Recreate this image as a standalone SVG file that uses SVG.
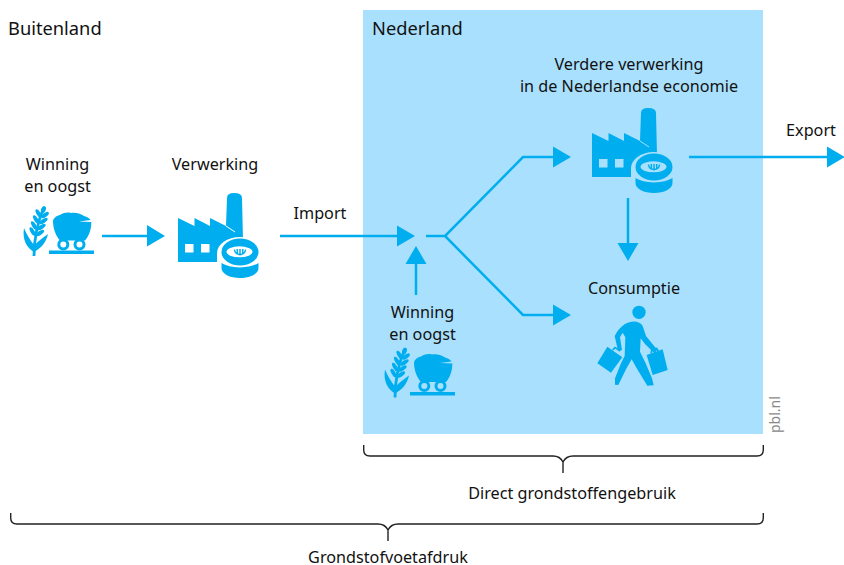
<svg xmlns="http://www.w3.org/2000/svg" width="844" height="565" viewBox="0 0 844 565">
<style>
text{font-family:"Noto Sans","Open Sans","Liberation Sans",sans-serif;font-size:16.200px;fill:#111}
.m{text-anchor:middle}
.h{font-size:18.300px}
.l{fill:none;stroke:#00aeef;stroke-width:2.500}
.a{fill:#00aeef}
.b{fill:none;stroke:#222;stroke-width:1.400}
</style>
<defs>
<g id="factory">
<path class="a" d="M178 218L194.500 226V218L210 226V218L226 226L227 198Q227 193 234 193Q242 193 242 198L243 240H226V262H178Z"/>
<path d="M226 226L235 232" fill="none" stroke="currentColor" stroke-width="1"/>
<path d="M185 244h8.500v8.500h-8.500zM201 244h8.500v8.500h-8.500z" fill="currentColor"/>
<ellipse cx="240" cy="253" rx="23" ry="16" fill="currentColor"/>
<rect x="217" y="253" width="20" height="14" fill="currentColor"/>
<path class="a" d="M221.500 263Q228 267 240 267.500Q252 267 258.500 263V268C258.500 274 250 278 240 278C230 278 221.500 274 221.500 268Z"/>
<ellipse class="a" cx="240" cy="252" rx="18.500" ry="13.500"/>
<ellipse cx="239.500" cy="251.800" rx="13" ry="5.500" fill="currentColor"/>
<path d="M234.500 249.500Q235 254.500 240 254.500Q245 254.500 245.500 249.500M240 249V255.500M237.300 249V254M242.700 249V254" fill="none" stroke="#00aeef" stroke-width="1.500"/>
</g>
<g id="raw">
<path d="M34 256C34 240 37 224 43.500 208" fill="none" stroke="#00aeef" stroke-width="2.800"/>
<g class="a">
<ellipse cx="43.500" cy="209.500" rx="2.300" ry="3.500" transform="rotate(20 43.500 209.500)"/>
<ellipse cx="38.500" cy="213.500" rx="2" ry="4.800" transform="rotate(-30 38.500 213.500)"/>
<ellipse cx="45" cy="215" rx="2" ry="4.500" transform="rotate(55 45 215)"/>
<ellipse cx="36" cy="219.500" rx="2" ry="4.800" transform="rotate(-30 36 219.500)"/>
<ellipse cx="43.500" cy="221" rx="2" ry="4.800" transform="rotate(55 43.500 221)"/>
<ellipse cx="34" cy="225.500" rx="2" ry="4.800" transform="rotate(-30 34 225.500)"/>
<ellipse cx="41.500" cy="227" rx="2" ry="4.800" transform="rotate(55 41.500 227)"/>
<ellipse cx="32.500" cy="231.500" rx="2" ry="4.800" transform="rotate(-30 32.500 231.500)"/>
<ellipse cx="40" cy="233" rx="2" ry="4.800" transform="rotate(55 40 233)"/>
<path d="M24 228C22 240 27 248 34 252V245C30 240 27 235 24 228Z"/>
<path d="M34 252C41 248 46 243 48 234C43 238 38 241 34.500 245Z"/>
<path d="M53 221C53.500 218 57 215.500 60 215C64 212.500 68 212 71 213C76 212 81 214 84 216C87 217 90 218.500 90.500 220L79 221.500L91.300 222C91.500 229 89 236 85 240.500H60C56 236 53 229 53 221Z"/>
<rect x="49" y="250.500" width="45" height="3.500"/>
</g>
<g fill="none" stroke="#00aeef" stroke-width="3">
<circle cx="63.300" cy="244.500" r="4.500"/>
<circle cx="79.500" cy="244.500" r="4.500"/>
</g>
</g>
</defs>
<g id="nederland-area">
<rect x="363" y="10" width="400" height="424" fill="#a9e0fd"/>
</g>
<g id="connectors">
<path class="l" d="M102 236H148M280 236H398M426 236H445M416 295V263M628 198V244M689 157H828M554 157H523L445 236L523 315H554"/>
<path class="a" d="M147 225L165 236L147 246.500ZM397 225.500L415 236L397 246.500ZM405.500 264L416 246L426.500 264ZM617.500 243L628 261L638.500 243ZM553 146.500L571 157L553 167.500ZM553 304.500L571 315L553 325.500ZM827 146.500L845 157L827 167.500Z"/>
<path class="b" d="M363.700 445V450Q363.700 456 370 456H553Q560 456 563 462Q566 456 573 456H757Q763.300 456 763.300 450V445M563 461V473"/>
<path class="b" d="M10.700 513V518Q10.700 524 17 524H378Q385 524 388 530Q391 524 398 524H757Q763.300 524 763.300 518V513M388 529V541"/>
</g>
<g id="buitenland"><text class="h" x="8" y="35">Buitenland</text></g>
<g id="nederland"><text class="h" x="372" y="35">Nederland</text></g>
<g id="winning-buiten"><text class="m" x="57.500" y="170">Winning</text><text class="m" x="57.500" y="192">en oogst</text><use href="#raw"/></g>
<g id="verwerking"><text class="m" x="215" y="170">Verwerking</text><use href="#factory" color="#fff"/></g>
<g id="import"><text class="m" x="320" y="219">Import</text></g>
<g id="winning-nl"><text class="m" x="422.500" y="318">Winning</text><text class="m" x="422.500" y="340">en oogst</text><use href="#raw" transform="translate(361 141.500)"/></g>
<g id="verdere-verwerking"><text class="m" x="629" y="70">Verdere verwerking</text><text class="m" x="629" y="92">in de Nederlandse economie</text><use href="#factory" color="#a9e0fd" transform="translate(414 -85)"/></g>
<g id="export"><text class="m" x="811" y="136">Export</text></g>
<g id="consumptie"><text class="m" x="634" y="294">Consumptie</text>
<g class="a" transform="translate(590 300) scale(.3333)">
<circle cx="147" cy="37" r="20"/>
<path d="M105 72C125 60 150 62 158 78L168 108L202 150L193 160L165 132L152 115L150 155L167 190L186 235L191 256L172 257L140 205L125 178L108 208L85 255L75 254L75 235L93 190L104 168L106 112L98 98L90 112L96 150L84 152L74 108Q85 85 105 72Z"/>
<path d="M52 140L97 172L63 218L22 190Z"/>
<path d="M170 165L218 148L233 210L188 225Z"/>
<path d="M68 150L75 143L91 153" fill="none" stroke="#00aeef" stroke-width="5"/>
<path d="M183 160L186 148L200 145L205 153" fill="none" stroke="#00aeef" stroke-width="5"/>
</g></g>
<g id="source"><text x="0" y="0" transform="translate(780 433) rotate(-90)" style="font-size:14px;fill:#888">pbl.nl</text></g>
<g id="direct"><text class="m" x="572" y="499">Direct grondstoffengebruik</text></g>
<g id="voetafdruk"><text class="m" x="388" y="563">Grondstofvoetafdruk</text></g>
</svg>
